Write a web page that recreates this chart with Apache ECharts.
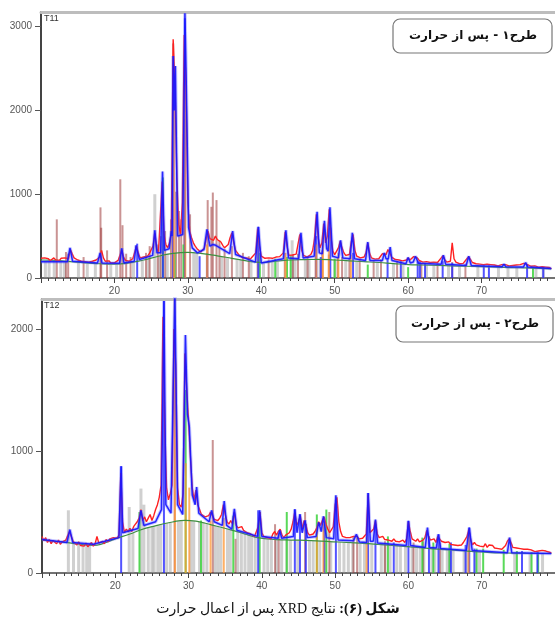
<!DOCTYPE html>
<html>
<head>
<meta charset="utf-8" />
<title>XRD</title>
<style>
  body { margin: 0; background: #fff; }
  #chart { width: 555px; height: 625px; direction: rtl; }
</style>
</head>
<body>
<div id="chart"></div>
<script src="https://cdn.jsdelivr.net/npm/echarts@6/dist/echarts.min.js"></script>
<script>
// 2-theta grid of the measured patterns
const obsStart = 10, obsStep = 0.25;

// T11: measured counts, one row = 5 degrees
const obsT11 = [
  235,215,240,225, 230,205,220,240, 215,230,210,235, 220,240,250,230, 340,290,240,225,
  215,230,200,220, 195,215,190,205, 200,185,215,195, 250,330,240,200, 190,205,180,195,
  180,195,210,230, 330,250,210,190, 200,215,230,215, 380,300,240,245, 250,270,260,290,
  300,380,540,350, 310,330,1150,520, 400,360,420,540, 2850,2300,1200,640, 520,900,2900,2300,
  900,560,480,420, 380,350,330,310, 320,360,470,560, 470,480,450,500, 460,440,430,390,
  360,350,400,480, 540,420,330,300, 270,250,240,255, 240,230,225,250, 260,300,590,380,
  260,240,235,250, 240,245,235,250, 250,240,255,245, 300,550,380,270, 260,275,270,285,
  300,520,330,270, 260,250,270,280, 330,470,760,480, 360,420,650,420, 500,820,480,320,
  280,300,360,440, 360,300,270,260, 280,430,520,330, 260,250,240,235, 250,300,420,300,
  240,230,225,220, 230,250,290,270, 280,340,300,250, 230,220,225,215, 210,205,200,215,
  240,215,230,255, 260,240,210,195, 190,185,195,180, 185,175,190,180, 185,195,240,265,
  220,190,185,200, 420,230,190,175, 170,180,175,190, 230,255,220,185, 165,170,160,165,
  155,160,150,165, 150,160,145,155, 150,145,155,160, 170,160,150,145, 140,150,145,155,
  150,160,165,175, 185,160,145,140, 135,145,140,130, 125,135,120,130, 115,125,110
];
const calcT11 = [
  [10,195],[13.6,195],[13.95,360],[14.3,200],[17.7,180],[18.05,300],[18.3,180],[20.7,175],[21.0,355],[21.3,180],
  [22.7,200],[22.95,390],[23.1,410],[23.4,220],[25.2,270],[25.5,570],[25.8,300],[26.3,300],[26.55,1270],[26.8,330],
  [27.45,350],[27.75,560],[27.85,500],[28.0,2650],[28.15,2000],[28.3,2530],[28.6,500],[29.3,520],[29.6,3160],[29.75,2500],
  [30.1,600],[30.6,360],[31.3,300],[32.2,340],[32.6,580],[33.0,380],[33.4,400],[33.8,390],[35.7,290],[36.1,560],
  [36.5,280],[39.2,190],[39.6,610],[40.0,180],[43.0,230],[43.35,570],[43.7,240],[45.1,230],[45.4,540],[45.7,240],
  [47.2,260],[47.6,790],[47.9,300],[48.3,290],[48.6,683],[48.9,350],[49.1,320],[49.35,843],[49.7,260],[50.5,240],
  [50.8,450],[51.1,240],[52.1,230],[52.4,540],[52.7,230],[54.2,210],[54.5,430],[54.8,210],[56.5,210],[56.75,300],
  [57.0,230],[57.3,230],[57.55,370],[57.8,210],[59.7,170],[60.0,245],[60.3,180],[60.7,190],[61.0,260],[61.4,175],
  [64.5,165],[64.8,272],[65.1,165],[67.9,150],[68.25,260],[68.6,150],[72.8,135],[73.05,165],[73.3,135],[75.7,130],
  [76.0,185],[76.3,130],[79.5,112]
];
const bgT11 = [
  [10,215],[12,210],[14,195],[16,180],[18,170],[20,165],[22,180],[24,215],[26,260],[28,295],[30,305],[32,290],
  [34,265],[36,235],[38,205],[40,185],[42,200],[44,215],[46,220],[48,222],[50,215],[52,205],[54,195],[56,185],
  [58,172],[60,160],[62,155],[64,150],[66,145],[68,140],[70,135],[72,130],[74,125],[76,120],[78,115],[79.5,110]
];
const grayT11 = [
  [10.6,200],[11.1,210],[11.8,200],[12.7,205],[13.2,190],[15.1,190],[16.3,175],[17.4,170],[19.5,160],[20.3,165],
  [22.6,190],[23.8,205],[24.6,230],[25.5,1000],[26.1,270],[27.2,290],[30.8,300],[31.2,295],[34.6,250],[35.4,245],
  [36.7,225],[37.2,215],[38.6,195],[40.3,190],[41.5,195],[42.2,200],[44.2,450],[44.6,215],[46.0,220],[46.5,220],
  [48.0,220],[50.0,215],[51.5,205],[53.0,200],[55.8,185],[58.0,175],[59.3,165],[62.5,155],[63.5,150],[65.5,145],
  [67.0,145],[69.5,135],[72.3,130],[73.6,125],[74.8,125],[77.4,120],[78.4,115]
];
const brownT11 = [
  [12.15,700],[13.4,310],[13.7,290],[15.8,250],[18.1,843],[18.2,600],[19.0,330],[20.8,1178],[21.1,630],[21.6,290],
  [22.2,250],[24.3,300],[24.8,380],[25.9,400],[26.3,500],[26.9,560],[27.7,700],[28.0,2800],[28.4,1030],[28.8,800],
  [29.1,700],[29.5,1900],[30.3,760],[32.7,930],[33.2,850],[33.4,1020],[33.9,930],[34.3,450],[35.0,350],[36.0,380],
  [37.5,300],[38.3,260],[39.5,450],[41.0,220],[43.2,300],[44.3,280],[45.0,290],[46.3,250],[47.4,350],[48.3,330],
  [49.2,280],[50.4,240],[51.0,250],[52.0,240],[53.4,230],[55.3,210],[56.3,220],[58.5,200],[61.8,180],[64.0,175],
  [66.0,190],[67.8,170]
];
const greenT11 = [
  [26.6,1200],[28.2,300],[29.4,400],[39.8,300],[41.9,230],[43.5,250],[44.0,260],[50.0,230],[54.5,160],[60.0,130],[77.0,120]
];
const blueT11 = [
  [23.1,410],[26.6,900],[28.0,2000],[29.6,3100],[31.6,260],[32.6,300],[39.6,610],[47.5,500],[48.1,250],[49.4,600],
  [52.5,300],[57.2,230],[59.0,200],[61.3,200],[61.6,200],[62.3,180],[64.7,200],[66.0,180],[70.3,150],[71.0,150],
  [76.2,160],[78.4,130]
];
const orangeT11 = [
  [28.1,2000],[29.65,2300],[32.6,400],[43.3,300],[47.5,400],[48.4,450],[49.2,500],[50.5,300],[52.2,280]
];

// T12
const obsT12 = [
  300,265,290,250, 275,240,265,255, 240,270,235,255, 250,270,285,340, 300,260,245,230,
  255,225,240,220, 245,215,230,250, 220,240,300,245, 235,260,240,275, 255,280,265,290,
  300,285,310,820, 420,330,360,340, 365,340,380,400, 420,450,520,430, 460,420,450,480,
  430,470,520,560, 620,720,2100,1200, 700,600,650,720, 2000,1700,700,560, 540,650,1800,1500,
  1250,950,700,600, 680,560,520,480, 490,460,450,470, 500,470,440,450, 430,450,480,560,
  480,420,400,430, 400,500,390,370, 360,380,350,340, 330,345,320,310, 300,310,380,500,
  330,300,310,290, 300,280,320,340, 310,340,360,310, 290,310,300,330, 360,420,500,390,
  420,470,360,430, 400,330,310,300, 320,340,370,420, 390,430,460,400, 360,330,320,380,
  560,620,420,340, 300,310,290,280, 290,280,300,310, 300,280,270,285, 300,320,640,330,
  320,360,430,320, 290,280,300,275, 290,270,285,260, 280,260,270,255, 260,270,250,280,
  420,340,280,270, 260,280,255,265, 270,290,350,300, 270,260,280,250, 300,290,260,245,
  250,240,255,235, 250,230,245,225, 240,230,250,260, 300,360,270,230, 250,230,245,220,
  235,215,240,210, 230,215,225,205, 220,200,215,195, 210,225,260,280, 250,210,195,205,
  190,200,185,195, 185,195,180,190, 185,175,190,180, 175,185,170,180, 175,170,165
];
const calcT12 = [
  [10,275],[13.4,250],[13.8,356],[14.2,250],[17,235],[20.5,290],[20.8,875],[21.0,330],[23.1,365],[23.5,514],
  [23.9,390],[25.5,420],[26.3,520],[26.64,2230],[26.9,560],[27.6,490],[28.13,2300],[28.5,560],[29.2,480],[29.57,1950],
  [29.85,1300],[30.1,1200],[30.5,640],[30.9,560],[31.1,705],[31.4,490],[32.8,420],[33.15,514],[33.5,420],[34.6,390],
  [34.86,590],[35.2,390],[35.9,360],[36.25,525],[36.6,350],[39.4,300],[39.7,514],[40.0,300],[42.2,285],[42.45,350],
  [42.7,285],[44.3,300],[44.5,522],[44.8,330],[45.2,481],[45.5,330],[45.9,432],[46.2,290],[47.4,300],[47.76,415],
  [48.1,340],[48.4,465],[48.8,290],[49.8,280],[50.1,637],[50.4,270],[52.5,265],[52.9,317],[53.3,255],[54.3,250],
  [54.5,656],[54.8,260],[55.2,260],[55.5,438],[55.8,245],[59.7,225],[60.0,427],[60.3,225],[62.3,210],[62.6,372],
  [62.9,210],[63.8,205],[64.1,317],[64.4,200],[67.9,185],[68.3,372],[68.7,185],[73.5,165],[73.8,290],[74.1,165],
  [79.5,160]
];
const bgT12 = [
  [10,270],[12,258],[14,245],[16,230],[17,227],[18,235],[20,280],[22,320],[23.3,350],[25,380],[27.8,418],[29.5,432],
  [31,425],[33.1,395],[36,350],[38,315],[39.4,290],[42,274],[44,270],[46,268],[50.5,254],[55,238],[59.4,219],[63,200],
  [66.6,186],[70,172],[72.9,164],[76,162],[79.5,160]
];
const grayT12 = [
  [13.6,514],[14.3,245],[15.0,240],[15.6,235],[16.1,230],[16.5,228],[21.9,541],[22.4,330],[23.5,692],[23.9,560],
  [24.5,370],[25.0,380],[25.3,385],[25.8,395],[26.2,400],[27.0,410],[27.5,415],[28.6,425],[29.0,430],[30.3,430],
  [30.7,428],[31.5,420],[32.0,415],[32.5,405],[33.6,385],[34.0,380],[34.4,370],[35.3,360],[35.7,355],[36.7,340],
  [37.2,330],[37.7,320],[38.2,312],[38.6,305],[39.1,295],[40.3,285],[40.8,280],[41.3,277],[42.0,274],[42.7,272],
  [43.4,271],[43.9,270],[44.9,269],[46.5,266],[47.0,265],[47.9,262],[48.6,260],[49.4,258],[50.6,254],[51.2,250],
  [51.8,248],[52.4,246],[53.4,243],[54.0,241],[55.0,238],[56.3,233],[56.8,230],[57.5,227],[58.4,223],[58.9,221],
  [59.6,218],[60.5,213],[61.1,210],[61.6,207],[62.1,205],[63.2,199],[63.6,197],[64.6,193],[65.3,190],[65.6,189],
  [66.1,187],[67.6,182],[68.0,180],[69.2,176],[69.7,174],[74.5,163],[76.6,162],[78.3,161]
];
const brownT12 = [
  [28.1,2245],[33.3,1090],[36.4,280],[41.8,400],[42.3,330],[45.9,500],[49.2,500],[52.5,300],[53.0,300],[56.8,260],
  [60.7,250],[62.0,260],[64.3,250]
];
const greenT12 = [
  [23.3,500],[29.6,1500],[31.7,430],[36.1,470],[39.7,500],[43.4,500],[47.5,480],[48.8,520],[57.2,300],[61.9,290],
  [63.4,250],[65.6,240],[69.3,200],[70.2,200],[73.0,190],[74.8,180],[76.8,170],[77.7,170]
];
const blueT12 = [
  [20.8,875],[26.64,2230],[39.5,514],[44.5,522],[45.2,481],[46.0,400],[48.5,400],[50.1,600],[54.5,656],[55.5,400],
  [58.0,250],[60.0,427],[62.8,300],[64.1,317],[65.8,250],[67.8,230],[68.3,372],[69.0,200],[75.5,180],[77.6,170]
];
const orangeT12 = [
  [28.13,1600],[29.6,900],[30.1,700],[33.0,430],[34.8,450],[47.5,350],[48.4,420],[54.3,300],[68.2,300]
];

const xLabels = [20, 30, 40, 50, 60, 70];
const yTicksT11 = [0, 1000, 2000, 3000];
const yTicksT12 = [0, 1000, 2000];

function toPairs(arr) {
  return arr.map((v, i) => [obsStart + i * obsStep, v]);
}

function sticks(data, color, width, xi, yi, z) {
  return {
    type: 'custom',
    xAxisIndex: xi,
    yAxisIndex: yi,
    z: z,
    silent: true,
    data: data,
    encode: { x: 0, y: 1 },
    renderItem: function (params, api) {
      const b = api.coord([api.value(0), 0]);
      const t = api.coord([api.value(0), api.value(1)]);
      return {
        type: 'rect',
        shape: { x: b[0] - width / 2, y: t[1], width: width, height: b[1] - t[1] },
        style: { fill: color }
      };
    }
  };
}

function line(data, color, width, xi, yi, z, smooth) {
  return {
    type: 'line',
    xAxisIndex: xi,
    yAxisIndex: yi,
    z: z,
    data: data,
    smooth: smooth || false,
    showSymbol: false,
    silent: true,
    lineStyle: { color: color, width: width }
  };
}

function bottomX(gi) {
  return {
    type: 'value', gridIndex: gi, position: 'bottom', min: 10, max: 80, interval: 10,
    axisLine: { show: true, lineStyle: { color: '#444', width: 1.5 } },
    axisTick: { show: true, length: 5, lineStyle: { color: '#444' } },
    minorTick: { show: true, splitNumber: 10, length: 3, lineStyle: { color: '#444' } },
    axisLabel: { customValues: xLabels, fontSize: 10, color: '#555', margin: 8, fontFamily: 'Liberation Sans',
                 formatter: v => String(v) },
    splitLine: { show: false }
  };
}
function topX(gi) {
  return {
    type: 'value', gridIndex: gi, position: 'top', min: 10, max: 80,
    axisLine: { show: true, lineStyle: { color: '#bdbdbd', width: 3 } },
    axisTick: { show: false }, axisLabel: { show: false }, splitLine: { show: false }
  };
}
function leftY(gi, max, ticks) {
  return {
    type: 'value', gridIndex: gi, min: 0, max: max,
    axisLine: { show: true, lineStyle: { color: '#444', width: 2 } },
    axisTick: { show: true, length: 6, customValues: ticks, lineStyle: { color: '#555' } },
    axisLabel: { customValues: ticks, fontSize: 10, color: '#555', margin: 9, fontFamily: 'Liberation Sans',
                 formatter: v => String(v) },
    splitLine: { show: false }
  };
}

function panel(xi, yi, obs, calc, bg, gray, brown, green, blue, orange) {
  return [
    sticks(gray, 'rgba(150,150,150,0.45)', 3, xi, yi, 1),
    sticks(brown, 'rgba(150,40,40,0.5)', 2, xi, yi, 2),
    sticks(green, 'rgba(60,210,60,0.85)', 2, xi, yi, 2),
    sticks(blue, 'rgba(40,40,255,0.8)', 2, xi, yi, 2),
    sticks(orange, 'rgba(255,150,50,0.75)', 2, xi, yi, 2),
    line(bg, '#3f8f3f', 1.2, xi, yi, 3, true),
    line(toPairs(obs), '#ff2020', 1.4, xi, yi, 4),
    line(calc, 'rgba(90,90,255,0.35)', 3.5, xi, yi, 5),
    line(calc, 'rgba(20,20,255,0.9)', 1.5, xi, yi, 6)
  ];
}

const chart = echarts.init(document.getElementById('chart'));
chart.setOption({
  animation: false,
  backgroundColor: '#fff',
  grid: [
    { left: 41, top: 12, right: -6, height: 266 },
    { left: 42, top: 299, right: -7, height: 274 }
  ],
  xAxis: [bottomX(0), topX(0), bottomX(1), topX(1)],
  yAxis: [leftY(0, 3175, yTicksT11), leftY(1, 2246, yTicksT12)],
  series: panel(0, 0, obsT11, calcT11, bgT11, grayT11, brownT11, greenT11, blueT11, orangeT11)
    .concat(panel(2, 1, obsT12, calcT12, bgT12, grayT12, brownT12, greenT12, blueT12, orangeT12)),
  graphic: [
    { type: 'text', left: 44, top: 14, z: 10, style: { text: 'T11', fontSize: 9, fill: '#333', fontFamily: 'Liberation Sans' } },
    { type: 'text', left: 44, top: 301, z: 10, style: { text: 'T12', fontSize: 9, fill: '#333', fontFamily: 'Liberation Sans' } },
    { type: 'rect', z: 10, shape: { x: 393, y: 19, width: 159, height: 34, r: 7 },
      style: { fill: '#fff', stroke: '#777', lineWidth: 1.2 } },
    { type: 'text', z: 11, x: 473, y: 36,
      style: { text: 'طرح۱ - پس از حرارت', fontSize: 12, fontWeight: 'bold', fill: '#111',
               align: 'center', verticalAlign: 'middle', fontFamily: 'DejaVu Sans' } },
    { type: 'rect', z: 10, shape: { x: 396, y: 306, width: 157, height: 36, r: 7 },
      style: { fill: '#fff', stroke: '#777', lineWidth: 1.2 } },
    { type: 'text', z: 11, x: 475, y: 324,
      style: { text: 'طرح۲ - پس از حرارت', fontSize: 12, fontWeight: 'bold', fill: '#111',
               align: 'center', verticalAlign: 'middle', fontFamily: 'DejaVu Sans' } },
    { type: 'text', z: 11, x: 278, y: 609,
      style: {
        text: '{n|نتایج XRD پس از اعمال حرارت} {b|شکل (۶):}',
        align: 'center', verticalAlign: 'middle',
        rich: {
          n: { fontSize: 14, fill: '#111', fontFamily: 'Liberation Serif, DejaVu Sans' },
          b: { fontSize: 14, fill: '#111', fontWeight: 'bold', fontFamily: 'Liberation Serif, DejaVu Sans' }
        }
      } }
  ]
});
</script>
</body>
</html>
